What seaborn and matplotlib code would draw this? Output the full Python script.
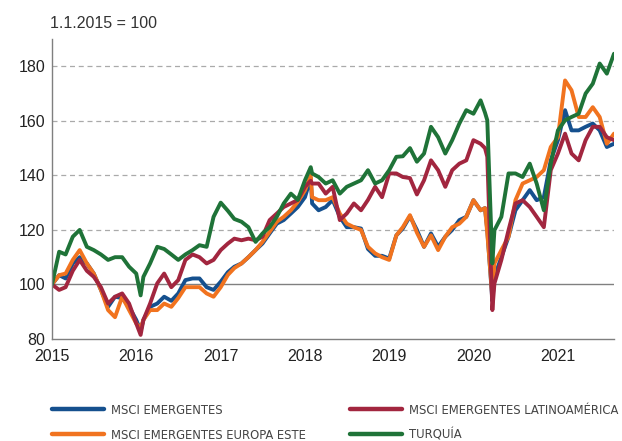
import pandas as pd
import numpy as np
import seaborn as sns
import matplotlib.pyplot as plt
import matplotlib.dates as mdates
from matplotlib.font_manager import FontProperties

# month starts Jan 2015 .. Sep 2021, plus a few extra dates for the sharp turns
extra_dates = ['2016-01-20', '2018-01-26', '2020-02-20', '2020-03-23']
dates = sorted(list(pd.date_range('2015-01-01', '2021-09-01', freq='MS')) + list(pd.to_datetime(extra_dates)))

# values (index 1.1.2015 = 100), in date order
msci_em = [100, 103.4, 102.2, 107.7, 110, 107.7, 104, 98, 91.8, 95.5, 95, 91.8,
           87, 83, 87, 91.8, 93, 95.5, 94, 96.7, 101.6, 102.2, 102.2, 99, 98,
           101, 104.5, 106.5, 107.7, 110, 112.6, 115, 118.7, 122.3, 123.6, 126, 128.4,
           132, 139, 129.7, 127.2, 128.4, 131, 124.8, 121, 121, 120.5, 113, 110.5, 110.5,
           109.5, 118, 120.5, 125, 120, 113.8, 118.7, 113.8, 117.5, 120, 123.6, 124.8,
           130.9, 127.2, 128, 119.9, 94, 102.8, 110, 117.5, 127.2, 130.9, 134.6, 130.9, 132,
           145.5, 152.9, 163.9, 156.5, 156.5, 157.8, 159, 156.5, 150.4, 151.6]
msci_latam = [100, 98, 99, 105, 109, 105, 102.8, 99, 93, 95.5, 96.7, 93,
              85.7, 81.5, 87, 93, 100.4, 104, 99, 101.6, 109, 111, 110, 107.7, 109,
              112.6, 115, 116.8, 116.2, 116.8, 116.2, 117.5, 123.6, 126, 128.4, 129.7, 131,
              135.8, 138, 137, 137, 133.3, 135.8, 123.6, 126, 129.7, 127.2, 131, 135.8, 132,
              140.7, 140.7, 139.4, 139, 133, 138.2, 145.5, 141.9, 135.8, 141.9, 144.3, 145.5,
              152.9, 151.6, 150, 146.8, 90.6, 100.4, 109, 119.9, 129.7, 130.9, 128.4, 124.8, 121,
              141.9, 148, 155.3, 148, 145.5, 152.9, 157.8, 157.8, 154, 152.9]
msci_europa_este = [100, 103.4, 104, 109, 112.6, 107.7, 104, 98, 90.6, 88, 95.5, 90.6,
                    85.7, 84, 87, 90.6, 90.6, 93, 91.8, 95, 99, 99, 99, 96.7, 95.5,
                    99, 103.5, 106, 107.7, 110, 112.6, 115.6, 119.3, 123, 124.8, 127.2, 130.3,
                    134.5, 140, 132, 130.9, 130.9, 132, 126, 122.3, 121, 120, 113.8, 111.4, 110,
                    109, 118, 121, 125.4, 119, 113.8, 118, 112.6, 117.5, 121, 122.3, 124.8,
                    130.9, 127.2, 128, 118.7, 95.5, 107.7, 112.6, 117.5, 130.9, 137, 138.2, 139.4, 141.9,
                    150.4, 154, 174.8, 171.2, 161.4, 161.4, 165, 161.4, 151.6, 155.3]
turquia = [100, 112, 111, 117.5, 120, 113.8, 112.6, 111, 109, 110, 110, 106.5,
           104, 96, 102.8, 107.7, 113.8, 113, 111, 109, 111, 112.6, 114.4, 113.8, 124.8,
           130, 127, 124, 123, 121, 115.6, 118.7, 121, 124.8, 129.7, 133.3, 131,
           138.2, 143, 140.7, 139.4, 137, 138.2, 133.3, 135.8, 137, 138.2, 141.9, 137, 138.2,
           141.9, 146.8, 147, 150, 145, 148, 157.8, 154, 148, 152.9, 159, 163.9,
           162.6, 167.5, 163, 160.2, 107.7, 119.9, 124.8, 140.7, 140.7, 139.4, 144.3, 137, 127.2,
           144.3, 156.5, 160.2, 161.4, 162.6, 170, 173.6, 181, 177.3, 184.6]

series_names = ['MSCI EMERGENTES', 'MSCI EMERGENTES EUROPA ESTE',
                'MSCI EMERGENTES LATINOAMÉRICA', 'TURQUÍA']
colours = ['#15508e', '#f1731f', '#a2263f', '#1f7338']

df = pd.DataFrame({
    'Fecha': dates,
    series_names[0]: msci_em,
    series_names[1]: msci_europa_este,
    series_names[2]: msci_latam,
    series_names[3]: turquia,
}).melt(id_vars='Fecha', var_name='Serie', value_name='Valor')

sns.set_style('white')
plt.rcParams['font.family'] = ['Liberation Sans', 'DejaVu Sans']

fig = plt.figure(figsize=(6.22, 4.41), dpi=100)
ax = fig.add_axes([52 / 622, 1 - 339 / 441, (614 - 52) / 622, 300 / 441])

sns.lineplot(data=df, x='Fecha', y='Valor', hue='Serie', hue_order=series_names,
             palette=colours, linewidth=2.8, ax=ax, legend=False)

# grid lines
for v in [120, 140, 160, 180]:
    ax.axhline(v, color='#aaaaaa', lw=0.9, ls=(0, (4, 3)), zorder=0)
ax.axhline(100, color='#808080', lw=1.0, zorder=0.5)

ax.set_ylim(80, 190)
ax.set_yticks([80, 100, 120, 140, 160, 180])
ax.set_xlim(pd.Timestamp('2015-01-01'), pd.Timestamp('2021-09-01'))
ax.xaxis.set_major_locator(mdates.YearLocator())
ax.xaxis.set_major_formatter(mdates.DateFormatter('%Y'))
ax.set_xlabel('')
ax.set_ylabel('')
ax.tick_params(axis='x', direction='in', length=4, color='#999999', labelsize=11.5,
               labelcolor='#222222', pad=7)
ax.tick_params(axis='y', length=0, labelsize=11.5, labelcolor='#222222', pad=5)
for s in ['top', 'right']:
    ax.spines[s].set_visible(False)
for s in ['left', 'bottom']:
    ax.spines[s].set_color('#7f7f7f')
    ax.spines[s].set_linewidth(1.0)

fig.text(50 / 622, 1 - 23 / 441, '1.1.2015 = 100', fontsize=11.5, color='#333333',
         va='center', ha='left')

# legend in two columns below the plot (condensed face)
handles = [plt.Line2D([], [], color=c, lw=3.2) for c in colours]
leg_font = FontProperties(family='DejaVu Sans', stretch='condensed', size=9.3)
for i, x0 in enumerate([52 / 622, 350 / 622]):
    leg = fig.legend(handles[2 * i:2 * i + 2], series_names[2 * i:2 * i + 2],
                     loc='upper left', bbox_to_anchor=(x0, 1 - 404 / 441),
                     frameon=False, borderpad=0, borderaxespad=0,
                     handlelength=4.0, handletextpad=0.55, labelspacing=0.9,
                     prop=leg_font)
    for t in leg.get_texts():
        t.set_color('#444444')

fig.savefig('out.png', dpi=100)
